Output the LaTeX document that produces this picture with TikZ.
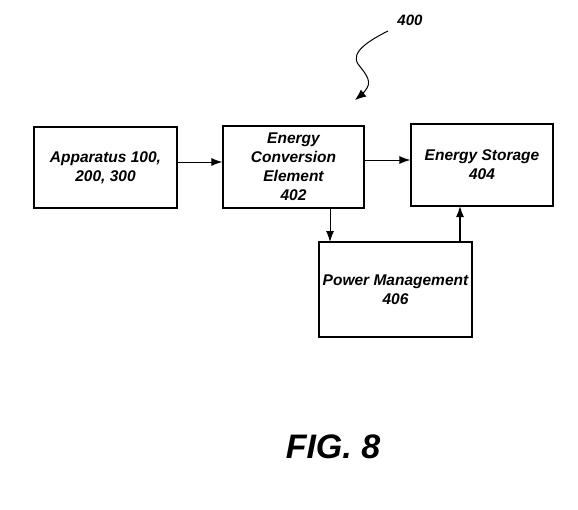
\documentclass[tikz,border=0pt]{standalone}
\usepackage{fontspec}
\setmainfont{Liberation Sans}
\usetikzlibrary{arrows.meta}
\begin{document}
\begin{tikzpicture}[x=1pt,y=-1pt,
  blk/.style={draw,line width=1.2pt,inner sep=0pt,align=center,font=\fontsize{15.5}{19}\selectfont\bfseries\itshape},
  conn/.style={line width=1pt,-{Latex[length=11pt,width=8pt]}}]
\useasboundingbox (0,0) rectangle (578,509);
\node[blk,minimum width=143pt,minimum height=81pt] (app) at (105.5,167.5) {Apparatus 100,\\200, 300};
\node[blk,minimum width=141pt,minimum height=82pt] (ece) at (293.5,167) {Energy\\Conversion\\Element\\402};
\node[blk,minimum width=142pt,minimum height=82pt] (sto) at (482,165) {Energy Storage\\404};
\node[blk,minimum width=153pt,minimum height=95pt] (pm) at (395.5,289.5) {Power Management\\406};
\draw[conn] (app.east |- 0,162) -- (ece.west |- 0,162);
\draw[conn] (ece.east |- 0,160) -- (sto.west |- 0,160);
\draw[conn] (330,208) -- (330,242);
\draw[conn,line width=1.5pt] (460,242) -- (460,206);
\node[font=\fontsize{15}{15}\selectfont\bfseries\itshape] (lab) at (410,20) {400};
\coordinate (tip) at (355,100);
\draw[line width=1pt,-{Latex[length=11pt,width=9pt]}] (388,31) .. controls (370,40) and (350,52) .. (358,64) .. controls (364,72) and (372,80) .. (367,88) .. controls (364,93) and (360,96) .. (tip);
\node[font=\fontsize{34}{34}\selectfont\bfseries\itshape] (fig) at (333,447) {FIG. 8};
\end{tikzpicture}
\end{document}
